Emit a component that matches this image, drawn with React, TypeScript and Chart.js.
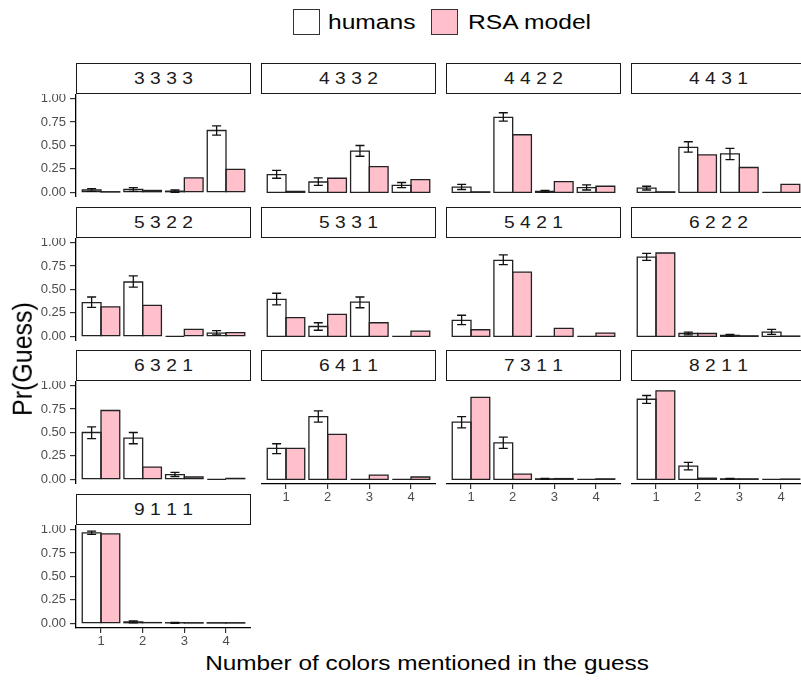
import React, { useEffect, useRef } from "react";
import { Chart, registerables } from "chart.js";

Chart.register(...registerables);

const FONT = "'Liberation Sans', Arial, Helvetica, sans-serif";

// Facet titles: colour counts of each card set
const facetTitles = [
  "3 3 3 3", "4 3 3 2", "4 4 2 2", "4 4 3 1",
  "5 3 2 2", "5 3 3 1", "5 4 2 1", "6 2 2 2",
  "6 3 2 1", "6 4 1 1", "7 3 1 1", "8 2 1 1",
  "9 1 1 1",
];

// Number of colours mentioned in the guess
const guessCounts = [1, 2, 3, 4];

// Human guess proportions per facet
const humanMeans = [
  [0.025, 0.03, 0.012, 0.66],
  [0.19, 0.11, 0.44, 0.075],
  [0.055, 0.8, 0.01, 0.05],
  [0.045, 0.48, 0.41, 0],
  [0.36, 0.58, 0, 0.035],
  [0.395, 0.105, 0.365, 0],
  [0.17, 0.81, 0, 0],
  [0.845, 0.03, 0.01, 0.045],
  [0.5, 0.44, 0.05, 0],
  [0.33, 0.67, 0, 0],
  [0.61, 0.39, 0.005, 0],
  [0.855, 0.14, 0.005, 0],
  [0.965, 0.015, 0.005, 0.003],
];

// Lower / upper ends of the human error bars (null = no bar)
const humanLower = [
  [0.01, 0.01, 0.0, 0.61],
  [0.15, 0.075, 0.385, 0.05],
  [0.03, 0.76, 0.0, 0.025],
  [0.025, 0.43, 0.35, null],
  [0.31, 0.525, null, 0.015],
  [0.335, 0.065, 0.305, null],
  [0.125, 0.765, null, null],
  [0.81, 0.015, 0.0, 0.02],
  [0.435, 0.38, 0.03, null],
  [0.275, 0.61, null, null],
  [0.55, 0.33, 0.0, null],
  [0.81, 0.1, 0.0, null],
  [0.95, 0.005, 0.0, null],
];
const humanUpper = [
  [0.04, 0.05, 0.025, 0.71],
  [0.235, 0.155, 0.5, 0.105],
  [0.085, 0.85, 0.02, 0.08],
  [0.065, 0.54, 0.47, null],
  [0.42, 0.645, null, 0.06],
  [0.46, 0.145, 0.42, null],
  [0.225, 0.87, null, null],
  [0.885, 0.045, 0.02, 0.075],
  [0.56, 0.5, 0.075, null],
  [0.38, 0.73, null, null],
  [0.67, 0.45, 0.01, null],
  [0.895, 0.18, 0.01, null],
  [0.985, 0.025, 0.01, null],
];

// RSA model predictions per facet
const modelMeans = [
  [0.003, 0.02, 0.155, 0.245],
  [0.01, 0.15, 0.275, 0.135],
  [0.005, 0.615, 0.115, 0.065],
  [0.005, 0.4, 0.265, 0.085],
  [0.315, 0.33, 0.075, 0.04],
  [0.2, 0.235, 0.145, 0.055],
  [0.07, 0.685, 0.085, 0.035],
  [0.89, 0.03, 0.005, 0.003],
  [0.735, 0.13, 0.025, 0.01],
  [0.33, 0.48, 0.045, 0.025],
  [0.875, 0.055, 0.008, 0.005],
  [0.945, 0.012, 0.005, 0.003],
  [0.955, 0.008, 0.003, 0.003],
];

const yTickValues = [0, 0.25, 0.5, 0.75, 1];
const seriesNames = ["humans", "RSA model"];
const seriesFills = ["#FFFFFF", "#FFC0CB"];

// Grid geometry
const COL_LEFT = [76, 261, 446, 631];
const ROW_STRIP_TOP = [63, 207, 350, 494];
const PANEL_W = 175;
const STRIP_H = 31;
const PLOT_H = 103;
const AXIS_W = 44;
const AXIS_H = 24;
const STRETCH = 1.2;

const outlinePlugin = {
  id: "barOutline",
  afterDatasetsDraw(chart: any) {
    const ctx = chart.ctx;
    ctx.save();
    ctx.strokeStyle = "#222222";
    ctx.lineWidth = 1.3;
    chart.data.datasets.forEach((_: any, di: number) => {
      const meta = chart.getDatasetMeta(di);
      meta.data.forEach((el: any) => {
        const left = el.x - el.width / 2;
        const top = Math.min(el.y, el.base);
        const h = Math.abs(el.base - el.y);
        ctx.beginPath();
        ctx.rect(left, top, el.width, h);
        ctx.stroke();
      });
    });
    ctx.restore();
  },
};

const errorBarPlugin = {
  id: "errorBars",
  afterDatasetsDraw(chart: any) {
    const ds = chart.data.datasets[0];
    const lo = ds.errorLow as (number | null)[];
    const hi = ds.errorHigh as (number | null)[];
    if (!lo || !hi) return;
    const ctx = chart.ctx;
    const yScale = chart.scales.y;
    const meta = chart.getDatasetMeta(0);
    ctx.save();
    ctx.strokeStyle = "#111111";
    ctx.lineWidth = 1.3;
    meta.data.forEach((el: any, i: number) => {
      if (lo[i] == null || hi[i] == null) return;
      const y1 = yScale.getPixelForValue(lo[i]);
      const y2 = yScale.getPixelForValue(hi[i]);
      const cap = 4.5;
      ctx.beginPath();
      ctx.moveTo(el.x, y1);
      ctx.lineTo(el.x, y2);
      ctx.moveTo(el.x - cap, y1);
      ctx.lineTo(el.x + cap, y1);
      ctx.moveTo(el.x - cap, y2);
      ctx.lineTo(el.x + cap, y2);
      ctx.stroke();
    });
    ctx.restore();
  },
};

function Facet({ index }: { index: number }) {
  const ref = useRef<HTMLCanvasElement>(null);
  const col = index % 4;
  const row = Math.floor(index / 4);
  const showY = col === 0;
  const showX = index >= 9;
  const canvasLeft = COL_LEFT[col] - (showY ? AXIS_W : 0);
  const canvasTop = ROW_STRIP_TOP[row] + STRIP_H;
  const canvasW = PANEL_W + (showY ? AXIS_W : 0);
  const canvasH = PLOT_H + (showX ? AXIS_H : 0);

  useEffect(() => {
    if (!ref.current) return;
    const tickFont = { family: FONT, size: 13 };
    const chart = new Chart(ref.current, {
      type: "bar",
      data: {
        datasets: [
          {
            label: seriesNames[0],
            data: guessCounts.map((g, i) => ({ x: g, y: humanMeans[index][i] })),
            backgroundColor: seriesFills[0],
            borderWidth: 0,
            errorLow: humanLower[index],
            errorHigh: humanUpper[index],
          } as any,
          {
            label: seriesNames[1],
            data: guessCounts.map((g, i) => ({ x: g, y: modelMeans[index][i] })),
            backgroundColor: seriesFills[1],
            borderWidth: 0,
          },
        ],
      },
      options: {
        animation: false,
        responsive: false,
        devicePixelRatio: 1,
        layout: { padding: 0 },
        datasets: { bar: { categoryPercentage: 0.9, barPercentage: 1 } },
        plugins: {
          legend: { display: false },
          tooltip: { enabled: false },
          title: { display: false },
        },
        scales: {
          x: {
            type: "linear",
            min: 0.4,
            max: 4.6,
            offset: false,
            display: showX,
            afterBuildTicks: (s: any) => {
              s.ticks = guessCounts.map((v) => ({ value: v }));
            },
            afterFit: (s: any) => {
              if (!showX) return;
              s.height = AXIS_H;
              s.paddingLeft = 0;
              s.paddingRight = 0;
            },
            grid: {
              display: true,
              offset: false,
              drawOnChartArea: false,
              drawTicks: true,
              tickLength: 5,
              color: "#333333",
              lineWidth: 1.2,
            },
            border: { display: true, color: "#000000", width: 1.3 },
            ticks: {
              color: "#4D4D4D",
              font: tickFont,
              padding: 1,
              maxRotation: 0,
              autoSkip: false,
              callback: (v: any) => String(v),
            },
          },
          y: {
            type: "linear",
            min: -0.05,
            max: 1.05,
            display: showY,
            afterBuildTicks: (s: any) => {
              s.ticks = yTickValues.map((v) => ({ value: v }));
            },
            afterFit: (s: any) => {
              if (!showY) return;
              s.width = AXIS_W;
              s.paddingTop = 0;
              s.paddingBottom = 0;
            },
            grid: {
              display: true,
              drawOnChartArea: false,
              drawTicks: true,
              tickLength: 6,
              color: "#333333",
              lineWidth: 1.2,
            },
            border: { display: true, color: "#000000", width: 1.3 },
            ticks: {
              color: "#4D4D4D",
              font: tickFont,
              padding: 4,
              autoSkip: false,
              callback: (v: any) => Number(v).toFixed(2),
            },
          },
        },
      } as any,
      plugins: [outlinePlugin, errorBarPlugin],
    });
    return () => chart.destroy();
  }, [index]);

  return (
    <>
      <div
        style={{
          position: "absolute",
          left: COL_LEFT[col],
          top: ROW_STRIP_TOP[row],
          width: PANEL_W,
          height: STRIP_H,
          boxSizing: "border-box",
          border: "1.5px solid #1A1A1A",
          background: "#FFFFFF",
          display: "flex",
          alignItems: "center",
          justifyContent: "center",
        }}
      >
        <span
          style={{
            display: "inline-block",
            fontSize: 16,
            lineHeight: 1,
            color: "#1A1A1A",
            transform: `scaleX(${STRETCH})`,
            whiteSpace: "pre",
          }}
        >
          {facetTitles[index]}
        </span>
      </div>
      <canvas
        ref={ref}
        width={canvasW}
        height={canvasH}
        style={{
          position: "absolute",
          left: canvasLeft,
          top: canvasTop,
          width: canvasW,
          height: canvasH,
        }}
      />
    </>
  );
}

function LegendKey({ left, fill }: { left: number; fill: string }) {
  return (
    <div
      style={{
        position: "absolute",
        left,
        top: 9,
        width: 27,
        height: 26,
        boxSizing: "border-box",
        border: "1.5px solid #333333",
        background: fill,
      }}
    />
  );
}

function LegendText({ left, text }: { left: number; text: string }) {
  return (
    <span
      style={{
        position: "absolute",
        left,
        top: 22 - 10.25,
        fontSize: 20.5,
        lineHeight: 1,
        color: "#000000",
        whiteSpace: "pre",
        transformOrigin: "left center",
        transform: `scaleX(${STRETCH})`,
      }}
    >
      {text}
    </span>
  );
}

export default function App() {
  return (
    <div
      style={{
        position: "absolute",
        left: 0,
        top: 0,
        width: 801,
        height: 681,
        overflow: "hidden",
        background: "#FFFFFF",
        fontFamily: FONT,
      }}
    >
      <LegendKey left={293} fill={seriesFills[0]} />
      <LegendText left={328} text={seriesNames[0]} />
      <LegendKey left={431} fill={seriesFills[1]} />
      <LegendText left={468} text={seriesNames[1]} />

      {facetTitles.map((_, i) => (
        <Facet key={i} index={i} />
      ))}

      <span
        style={{
          position: "absolute",
          left: 426.5,
          top: 663 - 10.15,
          fontSize: 20.3,
          lineHeight: 1,
          color: "#000000",
          whiteSpace: "pre",
          transform: `translateX(-50%) scaleX(${STRETCH})`,
        }}
      >
        Number of colors mentioned in the guess
      </span>
      <span
        style={{
          position: "absolute",
          left: 22,
          top: 359,
          fontSize: 25,
          lineHeight: 1,
          color: "#000000",
          whiteSpace: "pre",
          transform: "translate(-50%, -50%) rotate(-90deg) scale(1, 1.12)",
        }}
      >
        Pr(Guess)
      </span>
    </div>
  );
}
